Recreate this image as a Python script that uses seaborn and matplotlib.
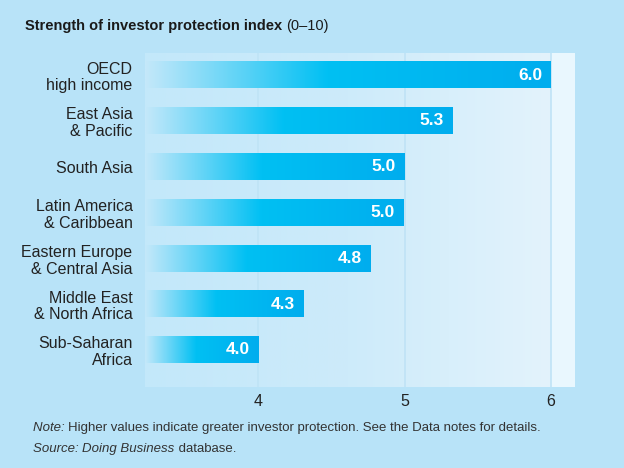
import matplotlib.pyplot as plt
import seaborn as sns
import numpy as np
import pandas as pd
from matplotlib.colors import LinearSegmentedColormap

# dados
regioes = ['OECD\nhigh income', 'East Asia\n& Pacific', 'South Asia', 'Latin America\n& Caribbean',
           'Eastern Europe\n& Central Asia', 'Middle East\n& North Africa', 'Sub-Saharan\nAfrica']
valores = [6.0, 5.33, 5.0, 4.99, 4.77, 4.31, 4.0]
ticks_x = [4, 5, 6]

titulo = 'Strength of investor protection index'
sub_titulo = '(0\u201310)'

df = pd.DataFrame({'regiao': regioes, 'valor': valores})

sns.set_theme(style='white')
plt.rcParams['font.family'] = ['Liberation Sans', 'DejaVu Sans']

fundo = '#b8e3f8'
fig = plt.figure(figsize=(6.24, 4.68), dpi=100, facecolor=fundo)
ax = fig.add_axes([0.2324, 0.173, 0.689, 0.7137])

sns.barplot(data=df, x='valor', y='regiao', orient='h', width=0.58, ax=ax, color='#00b9f0')

xmin, xmax = 3.226, 6.164
ymin, ymax = 6.81, -0.48

# fundo do painel em degradê
cmap_fundo = LinearSegmentedColormap.from_list('fundo', ['#c3e8fa', '#cdebfa', '#e3f3fc'])
ax.imshow(np.linspace(0, 1, 256).reshape(1, -1), cmap=cmap_fundo, aspect='auto',
          extent=(xmin, 6.0, ymin, ymax), zorder=0)
ax.axvspan(6.0, xmax, color='#e9f7fe', zorder=0, lw=0)
for t in ticks_x:
    ax.axvline(t, color='#bfe3f6', lw=1.2, zorder=1)

# barras com degradê
cmap_barra = LinearSegmentedColormap.from_list(
    'barra', [(0, '#c4e8fa'), (0.45, '#00c0f3'), (1, '#00adee')])
for patch, v in zip(ax.patches, valores):
    y0 = patch.get_y()
    h = patch.get_height()
    patch.set_alpha(0)
    ax.imshow(np.linspace(0, 1, 256).reshape(1, -1), cmap=cmap_barra, aspect='auto',
              extent=(xmin, v, y0 + h, y0), zorder=2, interpolation='bilinear')
    ax.text(v - 0.06, y0 + h / 2, f'{v:.1f}', ha='right', va='center', color='white',
            fontsize=12.5, fontweight='bold', zorder=3)
ax.set_xlim(xmin, xmax)
ax.set_ylim(ymin, ymax)

ax.set_xticks(ticks_x)
ax.set_xticklabels([str(t) for t in ticks_x])
ax.tick_params(axis='x', length=0, pad=5, labelsize=11.5, labelcolor='#222222')
ax.tick_params(axis='y', length=0, pad=9, labelsize=11.5, labelcolor='#222222')
for lbl in ax.get_yticklabels():
    lbl.set_linespacing(1.15)
ax.set_xlabel('')
ax.set_ylabel('')
sns.despine(ax=ax, left=True, bottom=True)


def linha_texto(x, y, pedacos, **kw):
    """Escreve pedaços de texto em sequência na mesma linha."""
    fig.canvas.draw()
    r = fig.canvas.get_renderer()
    for txt, estilo in pedacos:
        t = fig.text(x, y, txt, va='baseline', **estilo, **kw)
        bb = t.get_window_extent(renderer=r)
        x = bb.x1 / fig.bbox.width


# título
linha_texto(0.04, 0.935, [(titulo + ' ', {'fontsize': 10.5, 'fontweight': 'bold'}),
                          (sub_titulo, {'fontsize': 10.5})], color='#1a1a1a')

# notas
linha_texto(0.053, 0.079, [('Note: ', {'style': 'italic'}),
                           ('Higher values indicate greater investor protection. See the Data notes for details.', {})],
            fontsize=9.5, color='#333333')
linha_texto(0.053, 0.034, [('Source: ', {'style': 'italic'}),
                           ('Doing Business', {'style': 'italic'}),
                           (' database.', {})],
            fontsize=9.5, color='#333333')

fig.savefig('out.png', dpi=100, facecolor=fundo)
